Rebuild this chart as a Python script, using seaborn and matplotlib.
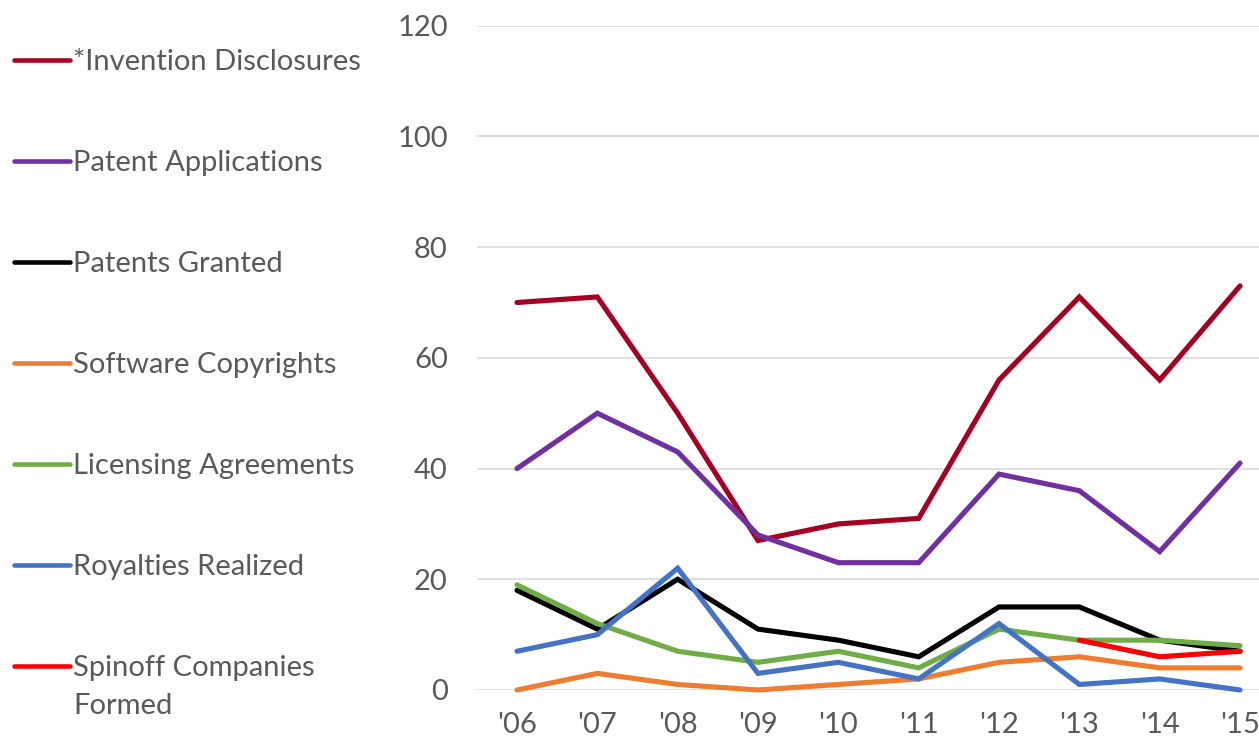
import numpy as np
import pandas as pd
import matplotlib
matplotlib.use("Agg")
import matplotlib.pyplot as plt
import seaborn as sns
from matplotlib.lines import Line2D

years = ["'06", "'07", "'08", "'09", "'10", "'11", "'12", "'13", "'14", "'15"]
invention_disclosures = [70, 71, 50, 27, 30, 31, 56, 71, 56, 73]
patent_applications = [40, 50, 43, 28, 23, 23, 39, 36, 25, 41]
patents_granted = [18, 11, 20, 11, 9, 6, 15, 15, 9, 7]
software_copyrights = [0, 3, 1, 0, 1, 2, 5, 6, 4, 4]
licensing_agreements = [19, 12, 7, 5, 7, 4, 11, 9, 9, 8]
royalties_realized = [7, 10, 22, 3, 5, 2, 12, 1, 2, 0]
spinoff_companies = [np.nan, np.nan, np.nan, np.nan, np.nan, np.nan, np.nan, 9, 6, 7]

series_names = ["*Invention Disclosures", "Patent Applications", "Patents Granted",
                "Software Copyrights", "Licensing Agreements", "Royalties Realized",
                "Spinoff Companies Formed"]
legend_labels = ["*Invention Disclosures", "Patent Applications", "Patents Granted",
                 "Software Copyrights", "Licensing Agreements", "Royalties Realized",
                 "Spinoff Companies"]
legend_extra_line = "Formed"
series_values = [invention_disclosures, patent_applications, patents_granted,
                 software_copyrights, licensing_agreements, royalties_realized,
                 spinoff_companies]
colors = ["#A50021", "#7030A0", "#000000", "#ED7D31", "#70AD47", "#4472C4", "#FF0000"]

rows = []
for name, vals in zip(series_names, series_values):
    for i, (yr, v) in enumerate(zip(years, vals)):
        rows.append({"series": name, "x": i, "year": yr, "value": v})
df = pd.DataFrame(rows).dropna()

sns.set_theme(style="white")
plt.rcParams['font.family'] = ['Lato', 'DejaVu Sans']

FS = 21
TXT = "#595959"
fig = plt.figure(figsize=(12.59, 7.43), dpi=100)
ax = fig.add_axes([477/1259, 53/743, (1259-477)/1259, (690-25.7)/743])

sns.lineplot(data=df, x="x", y="value", hue="series", hue_order=series_names,
             palette=dict(zip(series_names, colors)), linewidth=3.7, ax=ax,
             sort=False, estimator=None, legend=False, clip_on=False)
for ln in ax.lines:
    ln.set_solid_capstyle("round")
    ln.set_solid_joinstyle("miter")

ax.set_xlim(-0.498, 9.236)
ax.set_ylim(0, 120)
ax.set_yticks(range(0, 121, 20))
ax.set_xticks(range(len(years)))
ax.set_xticklabels(years)
ax.yaxis.grid(True, color="#D9D9D9", linewidth=1.2)
ax.set_axisbelow(True)
for s in ax.spines.values():
    s.set_visible(False)
ax.tick_params(axis="y", length=0, pad=21, labelsize=FS, labelcolor=TXT)
ax.tick_params(axis="x", length=0, pad=16, labelsize=FS, labelcolor=TXT)
ax.set_xlabel("")
ax.set_ylabel("")

handles = [Line2D([0], [0], color=c, lw=3.3, solid_capstyle="round") for c in colors]
leg = fig.legend(handles, legend_labels, loc="upper left", bbox_to_anchor=(0.0, 1 - 35/743),
                 bbox_transform=fig.transFigure, frameon=False, fontsize=FS,
                 handlelength=1.92, handletextpad=0.1, labelspacing=2.57,
                 borderaxespad=0.0, borderpad=0.48)
for t in leg.get_texts():
    t.set_color(TXT)

fig.canvas.draw()
last = leg.get_texts()[-1]
bb = last.get_window_extent(fig.canvas.get_renderer())
fig.text(bb.x0 / fig.bbox.width, (bb.y0 + bb.height / 2 - 38) / fig.bbox.height,
         legend_extra_line, fontsize=FS, color=TXT, va="center", ha="left")

fig.savefig("out.png", dpi=100)
